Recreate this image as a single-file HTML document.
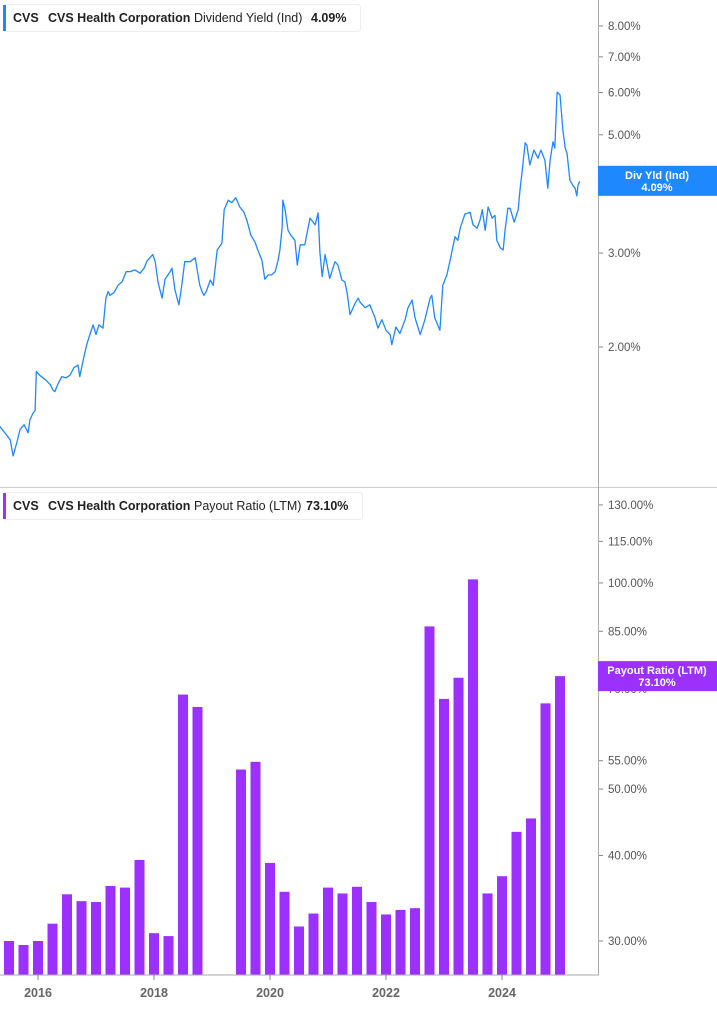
<!DOCTYPE html>
<html><head><meta charset="utf-8">
<style>
body{margin:0;background:#fff;font-family:"Liberation Sans",sans-serif;}
svg text{font-family:"Liberation Sans",sans-serif;}
</style></head>
<body>
<svg id="chart" width="717" height="1005" xmlns="http://www.w3.org/2000/svg">
  <rect x="0" y="0" width="717" height="1005" fill="#fff"/>
  <g id="topPane"></g>
  <g id="botPane"></g>
  <line x1="0" y1="487.5" x2="717" y2="487.5" stroke="#ccc"/>
  <line x1="598.5" y1="0" x2="598.5" y2="975" stroke="#aaa"/>
  <line x1="0" y1="975" x2="599" y2="975" stroke="#aaa"/>
  <g>
    <rect x="3.5" y="4.5" width="357" height="27" rx="3" fill="#fff" stroke="#eee"/>
    <rect x="3" y="5" width="3" height="26" fill="#1e88ff"/>
    <text x="13" y="22" font-size="12.5" font-weight="bold" fill="#222">CVS</text>
    <text x="48" y="22" font-size="12.5" font-weight="bold" fill="#222">CVS Health Corporation</text>
    <text x="194" y="22" font-size="12.5" fill="#222">Dividend Yield (Ind)</text>
    <text x="311" y="22" font-size="12.5" font-weight="bold" fill="#222">4.09%</text>
  </g>
  <g>
    <rect x="3.5" y="492.5" width="359" height="27" rx="3" fill="#fff" stroke="#eee"/>
    <rect x="3" y="493" width="3" height="26" fill="#9b30ff"/>
    <text x="13" y="510" font-size="12.5" font-weight="bold" fill="#222">CVS</text>
    <text x="48" y="510" font-size="12.5" font-weight="bold" fill="#222">CVS Health Corporation</text>
    <text x="194" y="510" font-size="12.5" fill="#222">Payout Ratio (LTM)</text>
    <text x="306" y="510" font-size="12.5" font-weight="bold" fill="#222">73.10%</text>
  </g>
</svg>
<script>
// ---- data: dividend yield (%) ----
const lineDates=[2015.34,2015.43,2015.52,2015.57,2015.64,2015.69,2015.76,2015.83,2015.86,2015.91,2015.95,2015.97,2016.03,2016.12,2016.21,2016.26,2016.29,2016.34,2016.41,2016.48,2016.55,2016.62,2016.69,2016.72,2016.78,2016.84,2016.90,2016.95,2017.00,2017.05,2017.12,2017.17,2017.21,2017.24,2017.31,2017.38,2017.45,2017.52,2017.59,2017.67,2017.76,2017.83,2017.88,2017.93,2017.98,2018.02,2018.07,2018.14,2018.19,2018.28,2018.31,2018.36,2018.43,2018.48,2018.53,2018.62,2018.71,2018.79,2018.83,2018.86,2018.90,2018.97,2019.02,2019.09,2019.17,2019.21,2019.28,2019.34,2019.41,2019.48,2019.55,2019.60,2019.67,2019.74,2019.79,2019.86,2019.91,2019.97,2020.03,2020.09,2020.14,2020.17,2020.21,2020.22,2020.26,2020.31,2020.36,2020.43,2020.47,2020.52,2020.60,2020.69,2020.78,2020.83,2020.86,2020.90,2020.95,2021.03,2021.12,2021.17,2021.24,2021.29,2021.33,2021.38,2021.47,2021.52,2021.55,2021.64,2021.72,2021.81,2021.86,2021.93,2022.00,2022.07,2022.10,2022.17,2022.24,2022.33,2022.38,2022.45,2022.50,2022.59,2022.67,2022.76,2022.79,2022.84,2022.93,2022.98,2023.05,2023.10,2023.19,2023.24,2023.28,2023.36,2023.45,2023.50,2023.57,2023.62,2023.66,2023.71,2023.76,2023.83,2023.88,2023.91,2023.97,2024.02,2024.05,2024.10,2024.14,2024.21,2024.28,2024.31,2024.34,2024.40,2024.43,2024.48,2024.55,2024.62,2024.67,2024.74,2024.79,2024.83,2024.88,2024.91,2024.95,2025.00,2025.05,2025.09,2025.12,2025.17,2025.22,2025.26,2025.29,2025.31,2025.34];
const lineValues=[1.42,1.38,1.34,1.25,1.33,1.40,1.43,1.38,1.46,1.50,1.52,1.80,1.77,1.74,1.70,1.66,1.65,1.70,1.76,1.75,1.77,1.83,1.85,1.76,1.89,2.02,2.12,2.20,2.11,2.20,2.17,2.47,2.54,2.50,2.53,2.61,2.65,2.77,2.77,2.79,2.75,2.81,2.90,2.94,2.98,2.89,2.64,2.47,2.68,2.77,2.81,2.56,2.40,2.61,2.89,2.89,2.94,2.61,2.54,2.50,2.54,2.67,2.61,3.04,3.13,3.62,3.77,3.73,3.81,3.66,3.58,3.46,3.24,3.15,3.04,2.91,2.68,2.73,2.73,2.77,2.91,3.04,3.36,3.77,3.62,3.31,3.24,3.17,2.85,3.11,3.11,3.49,3.39,3.57,3.01,2.71,2.98,2.69,2.89,2.85,2.67,2.65,2.53,2.30,2.42,2.47,2.43,2.37,2.40,2.27,2.17,2.25,2.15,2.11,2.02,2.18,2.12,2.25,2.37,2.45,2.27,2.11,2.25,2.47,2.50,2.27,2.15,2.61,2.73,2.89,3.22,3.17,3.34,3.55,3.58,3.39,3.34,3.46,3.62,3.31,3.66,3.49,3.53,3.17,3.07,3.04,3.29,3.64,3.64,3.43,3.62,3.94,4.20,4.83,4.78,4.39,4.68,4.52,4.68,4.48,3.97,4.48,4.85,4.72,6.01,5.94,5.10,4.72,4.62,4.11,4.02,3.97,3.84,4.02,4.09];
const yieldTicks=[2,3,4,5,6,7,8];
const yieldTickLabels=["2.00%","3.00%","4.00%","5.00%","6.00%","7.00%","8.00%"];
// ---- data: payout ratio (%) quarterly ----
const barDates=[2015.5,2015.75,2016.0,2016.25,2016.5,2016.75,2017.0,2017.25,2017.5,2017.75,2018.0,2018.25,2018.5,2018.75,2019.5,2019.75,2020.0,2020.25,2020.5,2020.75,2021.0,2021.25,2021.5,2021.75,2022.0,2022.25,2022.5,2022.75,2023.0,2023.25,2023.5,2023.75,2024.0,2024.25,2024.5,2024.75,2025.0];
const barValues=[30.0,29.6,30.0,31.8,35.1,34.3,34.2,36.1,35.9,39.4,30.8,30.5,68.7,65.9,53.4,54.8,39.0,35.4,31.5,32.9,35.9,35.2,36.0,34.2,32.8,33.3,33.5,86.4,67.7,72.7,101.2,35.2,37.3,43.3,45.3,66.7,73.1];
const payoutTicks=[30,40,50,55,70,85,100,115,130];
const payoutTickLabels=["30.00%","40.00%","50.00%","55.00%","70.00%","85.00%","100.00%","115.00%","130.00%"];
const yearTicks=[2016,2018,2020,2022,2024];
const yearLabels=["2016","2018","2020","2022","2024"];

const NS="http://www.w3.org/2000/svg";
function mk(tag,attrs,parent){const e=document.createElementNS(NS,tag);for(const k in attrs)e.setAttribute(k,attrs[k]);parent.appendChild(e);return e;}
const xOf=d=>38+(d-2016)*58;
const yTop=v=>347-Math.log(v/2)*231.6;
const yBot=v=>941-Math.log(v/30)*297.4;
const topG=document.getElementById('topPane'), botG=document.getElementById('botPane'), svgEl=document.getElementById('chart');

yieldTicks.forEach((t,i)=>{
  const y=yTop(t);
  const tk=mk('line',{x1:598,x2:603,y1:y,y2:y,stroke:'#888'},topG);
  
  
  const tx=mk('text',{x:608,y:y+4,'font-size':11.5,fill:'#555'},topG);
  
  
  tx.textContent=yieldTickLabels[i];
});
let d='';lineDates.forEach((dt,i)=>{d+=(i?'L':'M')+xOf(dt).toFixed(1)+','+yTop(lineValues[i]).toFixed(1);});
const ln=mk('path',{d:d,fill:'none',stroke:'#1e88ff','stroke-width':1.3,'stroke-linejoin':'round'},topG);



payoutTicks.forEach((t,i)=>{
  const y=yBot(t);
  const tk=mk('line',{x1:598,x2:603,y1:y,y2:y,stroke:'#888'},botG);
  
  
  const tx=mk('text',{x:608,y:y+4,'font-size':11.5,fill:'#555'},botG);
  
  
  tx.textContent=payoutTickLabels[i];
});
barDates.forEach((dt,i)=>{
  const x=xOf(dt), y=yBot(barValues[i]);
  const b=mk('rect',{x:x-5,y:y,width:10,height:975-y,fill:'#9b30ff'},botG);
  
  
});
yearTicks.forEach((t,i)=>{
  const x=xOf(t);
  const tk=mk('line',{x1:x,x2:x,y1:975,y2:980,stroke:'#888'},svgEl);
  
  
  const tx=mk('text',{x:x,y:997,'font-size':12.5,'font-weight':'bold',fill:'#666','text-anchor':'middle'},svgEl);
  
  
  tx.textContent=yearLabels[i];
});
function badge(yc,color,l1,l2,name){
  const g=mk('g',{},svgEl);
  
  
  mk('rect',{x:598,y:yc-15,width:119,height:30,fill:color},g);
  const a=mk('text',{x:657,y:yc-2,'font-size':11,'font-weight':'bold',fill:'#fff','text-anchor':'middle'},g);a.textContent=l1;
  const b=mk('text',{x:657,y:yc+10,'font-size':11,'font-weight':'bold',fill:'#fff','text-anchor':'middle'},g);b.textContent=l2;
}
badge(yTop(lineValues[lineValues.length-1])-0.5,'#1e88ff','Div Yld (Ind)','4.09%','yield-last-value-badge');
badge(yBot(barValues[barValues.length-1]),'#9b30ff','Payout Ratio (LTM)','73.10%','payout-last-value-badge');
</script>
</body></html>
